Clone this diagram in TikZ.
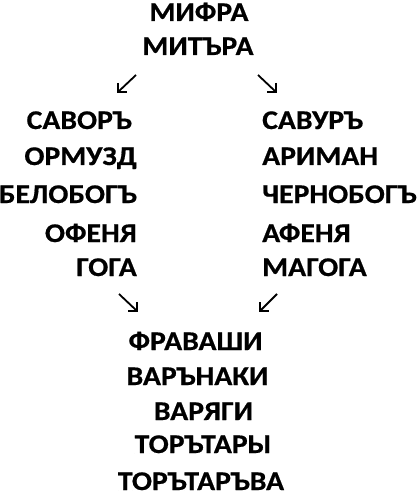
\documentclass[tikz,border=0pt]{standalone}
\usepackage{fontspec}
\newfontfamily\wordfont{Carlito}[FakeStretch=1.1, BoldFeatures={FakeBold=0.6}]
\tikzset{
  word/.style={font=\wordfont\bfseries\fontsize{27bp}{31bp}\selectfont, inner sep=0pt},
  glyph/.style={line width=1.8bp, line cap=butt, line join=miter}
}
\begin{document}
\begin{tikzpicture}[x=1bp,y=-1bp]
\useasboundingbox (0,0) rectangle (416,497);
% top
\node[word, anchor=base] (mifra) at (199,21) {МИФРА};
\node[word, anchor=base] (mitra) at (198,55) {МИТЪРА};
% left column
\node[word, anchor=base east] (l1) at (132,129) {САВОРЪ};
\node[word, anchor=base east] (l2) at (137,165) {ОРМУЗД};
\node[word, anchor=base east] (l3) at (137,203) {БЕЛОБОГЪ};
\node[word, anchor=base east] (l4) at (137,242) {ОФЕНЯ};
\node[word, anchor=base east] (l5) at (137,276) {ГОГА};
% right column
\node[word, anchor=base west] (r1) at (262,129) {САВУРЪ};
\node[word, anchor=base west] (r2) at (262,165) {АРИМАН};
\node[word, anchor=base west] (r3) at (262,203) {ЧЕРНОБОГЪ};
\node[word, anchor=base west] (r4) at (262,242) {АФЕНЯ};
\node[word, anchor=base west] (r5) at (262,276) {МАГОГА};
% bottom
\node[word, anchor=base] (b1) at (195.5,350) {ФРАВАШИ};
\node[word, anchor=base] (b2) at (197.5,385) {ВАРЪНАКИ};
\node[word, anchor=base] (b3) at (203.5,420) {ВАРЯГИ};
\node[word, anchor=base] (b4) at (203,453) {ТОРЪТАРЫ};
\node[word, anchor=base] (b5) at (201,490) {ТОРЪТАРЪВА};
% arrows
\coordinate (a1s) at (136,75);  \coordinate (a1e) at (118,92);
\coordinate (a2s) at (258,75);  \coordinate (a2e) at (276,92);
\coordinate (a3s) at (119,294); \coordinate (a3e) at (137,311);
\coordinate (a4s) at (277,294); \coordinate (a4e) at (260,311);
\draw[glyph] (a1s) -- (a1e);
\draw[glyph] (a1e) ++(0,-9) -- (a1e) -- ++(9,0);
\draw[glyph] (a2s) -- (a2e);
\draw[glyph] (a2e) ++(0,-9) -- (a2e) -- ++(-9,0);
\draw[glyph] (a3s) -- (a3e);
\draw[glyph] (a3e) ++(0,-9) -- (a3e) -- ++(-9,0);
\draw[glyph] (a4s) -- (a4e);
\draw[glyph] (a4e) ++(0,-9) -- (a4e) -- ++(9,0);
\end{tikzpicture}
\end{document}
